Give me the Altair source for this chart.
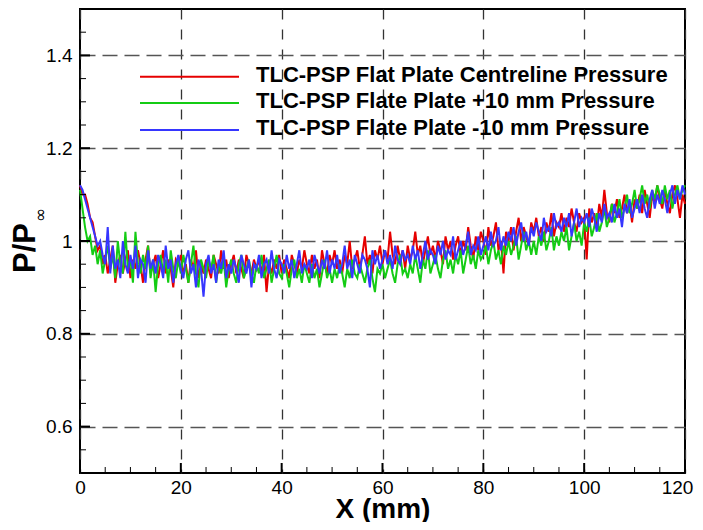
import altair as alt
import pandas as pd

# ---------------- data ----------------
X_STEP_MM = 0.5
X_MM = [round(i * X_STEP_MM, 1) for i in range(241)]

P_CENTRE = [
    1.12, 1.10, 1.10, 1.08, 1.05, 1.04, 1.01, 0.98, 0.99, 0.95,
    0.97, 0.93, 0.96, 0.99, 0.91, 0.95, 0.97, 0.93, 0.96, 0.98,
    0.92, 0.96, 0.94, 0.98, 0.95, 0.91, 0.96, 0.99, 0.93, 0.95,
    0.97, 0.92, 0.95, 0.98, 0.93, 0.96, 0.94, 0.90, 0.96, 0.95,
    0.97, 0.93, 0.95, 0.91, 0.96, 0.94, 0.98, 0.92, 0.95, 0.93,
    0.96, 0.94, 0.92, 0.97, 0.95, 0.93, 0.98, 0.94, 0.96, 0.92,
    0.95, 0.97, 0.93, 0.96, 0.94, 0.92, 0.97, 0.95, 0.93, 0.96,
    0.94, 0.96, 0.93, 0.97, 0.89, 0.95, 0.93, 0.96, 0.94, 0.97,
    0.93, 0.96, 0.94, 0.92, 0.97, 0.95, 0.93, 0.96, 0.94, 0.98,
    0.95, 0.93, 0.97, 0.94, 0.96, 0.92, 0.98, 0.95, 0.93, 0.97,
    0.95, 0.98, 0.94, 0.96, 0.93, 0.97, 0.95, 1.00, 0.94, 0.96,
    0.98, 0.94, 0.97, 1.01, 0.95, 0.97, 0.93, 0.98, 0.96, 0.99,
    0.95, 0.98, 0.96, 1.02, 0.97, 0.95, 0.99, 0.96, 0.98, 0.94,
    0.99, 0.96, 0.98, 1.02, 0.97, 0.99, 0.95, 0.98, 1.01, 0.97,
    0.99, 0.96, 1.00, 0.98, 0.95, 1.01, 0.98, 1.00, 0.96, 0.99,
    1.01, 0.97, 1.00, 0.98, 1.03, 0.99, 0.96, 1.01, 0.98, 1.02,
    1.00, 0.97, 1.03, 0.99, 1.01, 1.04, 0.98, 1.00, 0.93, 1.02,
    1.00, 1.03, 0.98, 1.02, 1.05, 1.00, 1.03, 1.01, 0.99, 1.04,
    1.02, 1.05, 1.01, 1.03, 1.00, 1.04, 1.02, 1.06, 1.01, 1.04,
    1.03, 1.06, 1.02, 1.05, 1.03, 1.07, 1.04, 1.02, 1.06, 1.04,
    1.05, 0.96, 1.07, 1.04, 1.06, 1.03, 1.08, 1.05, 1.11, 1.06,
    1.04, 1.08, 1.06, 1.09, 1.05, 1.07, 1.10, 1.06, 1.08, 1.04,
    1.09, 1.07, 1.10, 1.06, 1.11, 1.08, 1.05, 1.10, 1.08, 1.12,
    1.09, 1.07, 1.11, 1.08, 1.06, 1.10, 1.12, 1.09, 1.05, 1.10,
    1.08,
]

P_PLUS10 = [
    1.11, 1.07, 1.03, 1.00, 1.01, 0.97, 0.99, 0.95, 0.98, 0.93,
    0.96, 0.99, 0.94, 0.97, 0.92, 1.00, 0.95, 0.93, 1.02, 0.94,
    0.96, 0.91, 1.02, 0.95, 0.93, 0.97, 0.94, 0.99, 0.92, 0.96,
    0.89, 0.95, 0.97, 0.93, 0.96, 0.91, 0.98, 0.94, 0.92, 0.96,
    0.93, 0.97, 0.94, 0.91, 0.95, 0.99, 0.93, 0.90, 0.96, 0.94,
    0.92, 0.96, 0.94, 0.97, 0.91, 0.95, 0.93, 0.96, 0.90, 0.94,
    0.96, 0.93, 0.91, 0.95, 0.97, 0.92, 0.94, 0.96, 0.93, 0.91,
    0.95, 0.93, 0.97, 0.92, 0.94, 0.96, 0.91, 0.94, 0.97, 0.93,
    0.92, 0.95, 0.93, 0.90, 0.94, 0.96, 0.92, 0.94, 0.91, 0.95,
    0.93, 0.91, 0.95, 0.92, 0.94, 0.90, 0.93, 0.96, 0.92, 0.94,
    0.91, 0.94, 0.92, 0.95, 0.93, 0.90, 0.94, 0.92, 0.96, 0.93,
    0.92, 0.95, 0.93, 0.91, 0.94, 0.96, 0.92, 0.89, 0.94, 0.93,
    0.95, 0.92, 0.94, 0.96, 0.93, 0.91, 0.95, 0.97, 0.93, 0.94,
    0.92, 0.95, 0.93, 0.97, 0.94, 0.91, 0.96, 0.94, 0.98, 0.93,
    0.95, 0.97, 0.94, 0.92, 0.96, 0.98, 0.94, 0.96, 0.93, 0.97,
    0.95, 0.98, 0.93, 0.96, 0.99, 0.95, 0.97, 0.94, 0.98, 0.96,
    0.97, 0.99, 0.95, 0.98, 1.00, 0.96, 0.98, 0.95, 0.99, 0.97,
    1.00, 0.97, 0.99, 1.01, 0.96, 0.99, 1.02, 0.98, 1.00, 0.97,
    1.00, 0.97, 1.01, 0.99, 1.02, 0.98, 1.00, 1.03, 0.98, 1.01,
    0.99, 1.02, 1.00, 1.03, 0.98, 1.01, 1.04, 1.00, 1.02, 0.99,
    1.04, 1.02, 1.05, 1.01, 1.03, 1.06, 1.02, 1.04, 1.07, 1.03,
    1.05, 1.08, 1.04, 1.06, 1.09, 1.05, 1.07, 1.10, 1.06, 1.08,
    1.11, 1.07, 1.09, 1.12, 1.08, 1.10, 1.07, 1.11, 1.09, 1.12,
    1.10, 1.08, 1.12, 1.09, 1.11, 1.07, 1.10, 1.12, 1.09, 1.11,
    1.12,
]

P_MINUS10 = [
    1.12, 1.11, 1.09, 1.07, 1.05, 1.03, 1.01, 0.99, 1.00, 0.97,
    0.95, 1.03, 0.93, 0.99, 0.94, 0.96, 0.92, 1.00, 0.95, 0.93,
    0.97, 0.94, 0.99, 0.92, 0.96, 0.95, 0.91, 0.98, 0.94, 0.96,
    0.93, 0.97, 0.95, 0.92, 0.99, 0.94, 0.96, 0.91, 0.95, 0.97,
    0.94, 0.92, 0.96, 0.98, 0.93, 0.95, 0.90, 0.96, 0.94, 0.88,
    0.95, 0.97, 0.93, 0.95, 0.91, 0.96, 0.94, 0.98, 0.92, 0.95,
    0.93, 0.96, 0.94, 0.91, 0.97, 0.95, 0.93, 0.96, 0.90, 0.95,
    0.94, 0.97, 0.92, 0.95, 0.96, 0.93, 0.98, 0.94, 0.92, 0.96,
    0.95, 0.93, 0.97, 0.94, 0.96, 0.92, 0.95, 0.98, 0.93, 0.95,
    0.94, 0.96, 0.92, 0.97, 0.95, 0.93, 0.96, 0.94, 0.98, 0.93,
    0.96, 0.94, 0.97, 0.93, 0.95, 0.99, 0.94, 0.96, 0.92, 0.97,
    0.95, 0.93, 0.97, 0.96, 0.94, 0.90, 0.98, 0.95, 0.97, 0.94,
    0.96, 0.98, 0.95, 0.97, 0.94, 0.99, 0.96, 0.95, 0.98, 0.96,
    0.97, 0.95, 0.99, 0.96, 0.98, 0.94, 0.97, 1.00, 0.96, 0.98,
    0.97, 0.95, 0.99, 0.97, 1.00, 0.96, 0.98, 0.97, 1.01, 0.96,
    0.98, 1.00, 0.97, 0.99, 1.02, 0.97, 0.99, 0.98, 1.01, 0.97,
    0.99, 1.01, 0.98, 1.02, 0.99, 1.00, 1.03, 0.98, 1.01, 0.99,
    1.02, 1.00, 1.03, 0.99, 1.02, 1.04, 1.00, 1.02, 0.99, 1.03,
    1.01, 1.04, 1.02, 1.00, 1.05, 1.02, 1.03, 1.01, 1.06, 1.03,
    1.04, 1.02, 1.05, 1.03, 1.06, 1.01, 1.04, 1.07, 1.03, 1.05,
    1.04, 1.06, 1.03, 1.07, 1.05, 1.02, 1.06, 1.04, 1.08, 1.05,
    1.06, 1.04, 1.08, 1.05, 1.07, 1.03, 1.08, 1.06, 1.09, 1.05,
    1.07, 1.09, 1.06, 1.10, 1.07, 1.05, 1.09, 1.11, 1.07, 1.10,
    1.08, 1.11, 1.09, 1.06, 1.10, 1.12, 1.08, 1.11, 1.09, 1.12,
    1.10,
]

SERIES_NAMES = [
    "TLC-PSP Flat Plate Centreline Pressure",
    "TLC-PSP Flate Plate +10 mm Pressure",
    "TLC-PSP Flate Plate -10 mm Pressure",
]
SERIES_VALUES = [P_CENTRE, P_PLUS10, P_MINUS10]
SERIES_COLORS = ["#e60000", "#14cc14", "#3636ff"]

X_MAJOR = [0, 20, 40, 60, 80, 100, 120]
X_MINOR = [5, 10, 15, 25, 30, 35, 45, 50, 55, 65, 70, 75,
           85, 90, 95, 105, 110, 115]
Y_MAJOR = [0.6, 0.8, 1.0, 1.2, 1.4]
Y_MINOR = [0.55, 0.65, 0.7, 0.75, 0.85, 0.9, 0.95,
           1.05, 1.1, 1.15, 1.25, 1.3, 1.35, 1.45]

X_TITLE = "X (mm)"
Y_TITLE = "P/P"
Y_TITLE_SUB = "\u221e"

# ---------------- layout / style ----------------
W, H = 605, 464
FONT = "Liberation Sans"
MAJOR_LEN, MINOR_LEN = 10, 6
LEG_LINE_X = (60, 159)
LEG_LINE_Y = [67.7, 94.0, 121.0]
LEG_TEXT_X = 176
LEG_TEXT_Y = [72.7, 99.3, 126.0]

x_scale = alt.Scale(domain=[0, 120], nice=False, zero=False)
y_scale = alt.Scale(domain=[0.5, 1.5], nice=False, zero=False)

frames = [pd.DataFrame({"x": X_MM, "y": vals, "series": name})
          for name, vals in zip(SERIES_NAMES, SERIES_VALUES)]

# the same axis definitions are given to every layer so they merge into one
X_AXIS = alt.Axis(
    orient="bottom", values=X_MAJOR, format="d", title=X_TITLE,
    ticks=False, tickSize=0, domain=False, labelFlush=False,
    labelOffset={"condition": {"test": "datum.value == 120", "value": -8},
                 "value": 0},
    grid=True, gridDash=[10, 10], gridColor="#333333", gridWidth=1.3,
    labelFont=FONT, labelFontSize=19, labelColor="black", labelPadding=5,
    titleFont=FONT, titleFontSize=28, titleFontWeight="bold", titleColor="black",
    titleX=W / 2, titleY=44, titleAlign="center", titleBaseline="alphabetic",
)
Y_AXIS = alt.Axis(
    orient="left", values=Y_MAJOR, format=".1~f", title=Y_TITLE,
    ticks=False, tickSize=0, domain=False, labelFlush=False,
    grid=True, gridDash=[15, 7], gridColor="#555555", gridWidth=1.6,
    labelFont=FONT, labelFontSize=19, labelColor="black", labelPadding=8,
    titleFont=FONT, titleFontSize=31, titleFontWeight="bold", titleColor="black",
    titleAngle=270, titleX=-45.5, titleY=238.5, titleAlign="center",
    titleBaseline="alphabetic",
)


def X(field="x"):
    return alt.X(f"{field}:Q", scale=x_scale, axis=X_AXIS, title=X_TITLE)


def Y(field="y"):
    return alt.Y(f"{field}:Q", scale=y_scale, axis=Y_AXIS, title=Y_TITLE)


layers = []
for df, color in zip(frames, SERIES_COLORS):
    layers.append(
        alt.Chart(df).mark_line(color=color, strokeWidth=2).encode(x=X(), y=Y())
    )

# inward-pointing axis ticks (bottom and left), placed through the scales
for vals, length, width in [(X_MAJOR, MAJOR_LEN, 2), (X_MINOR, MINOR_LEN, 1)]:
    layers.append(
        alt.Chart(pd.DataFrame({"x": vals})).mark_rule(
            color="black", strokeWidth=width).encode(
            x=X(), y=alt.value(H), y2=alt.value(H - length))
    )
for vals, length, width in [(Y_MAJOR, MAJOR_LEN, 2), (Y_MINOR, MINOR_LEN, 1)]:
    layers.append(
        alt.Chart(pd.DataFrame({"y": vals})).mark_rule(
            color="black", strokeWidth=width).encode(
            y=Y(), x=alt.value(0), x2=alt.value(length))
    )

# legend drawn inside the plot
for i, (name, color) in enumerate(zip(SERIES_NAMES, SERIES_COLORS)):
    ldf = pd.DataFrame({"label": [name]})
    layers.append(
        alt.Chart(ldf).mark_rule(color=color, strokeWidth=2).encode(
            x=alt.value(LEG_LINE_X[0]), x2=alt.value(LEG_LINE_X[1]),
            y=alt.value(LEG_LINE_Y[i]))
    )
    layers.append(
        alt.Chart(ldf).mark_text(
            align="left", baseline="alphabetic", font=FONT, fontSize=22,
            fontWeight="bold", color="black").encode(
            x=alt.value(LEG_TEXT_X), y=alt.value(LEG_TEXT_Y[i]), text="label:N")
    )

# subscript infinity of the y title
layers.append(
    alt.Chart(pd.DataFrame({"t": [Y_TITLE_SUB]})).mark_text(
        angle=270, align="center", baseline="middle", font="DejaVu Sans",
        fontSize=17, color="black").encode(
        x=alt.value(-39), y=alt.value(206), text="t:N")
)

chart = (
    alt.layer(*layers)
    .properties(
        width=W, height=H,
        padding={"left": 72, "top": 1, "right": 10, "bottom": 49},
        autosize=alt.AutoSizeParams(type="none"),
    )
    .configure_view(stroke="black", strokeWidth=2)
)

chart.save("out.html", embed_options={"renderer": "svg", "actions": False})
